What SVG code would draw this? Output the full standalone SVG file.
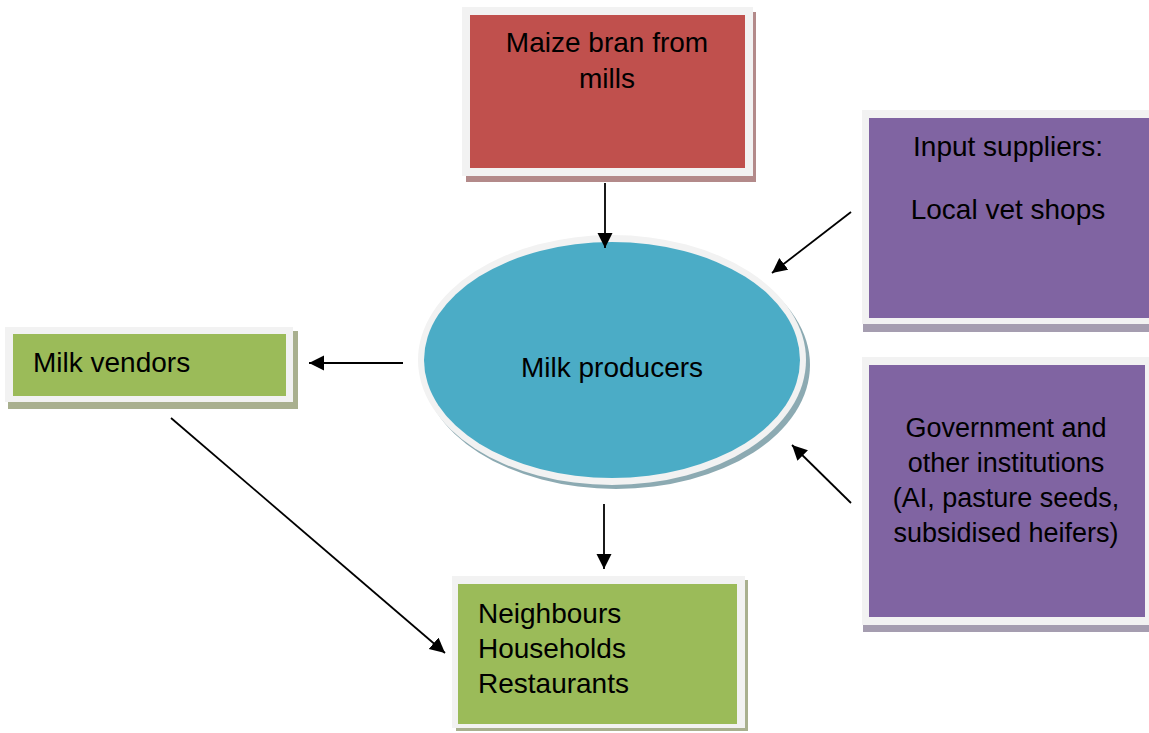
<svg xmlns="http://www.w3.org/2000/svg" width="1149" height="733" viewBox="0 0 1149 733">
<style>
text{font-family:"Liberation Sans",Arial,sans-serif;font-size:28px;fill:#000}
.gov{font-size:27px}
.frame{fill:#F2F2F2}
.red{fill:#C0504D}
.purple{fill:#8064A2}
.green{fill:#9BBB59}
.blue{fill:#4BACC6}
.conn{stroke:#000;stroke-width:1.8;fill:none;marker-end:url(#ah)}
</style>
<defs>
<marker id="ah" markerUnits="userSpaceOnUse" markerWidth="16" markerHeight="16" refX="15" refY="7.5" orient="auto">
<path d="M0,0 L15,7.5 L0,15 z" fill="#000"/>
</marker>
</defs>
<rect width="1149" height="733" fill="#fff"/>
<g id="maize">
<rect x="466" y="12" width="290" height="170" fill="#B38A8A"/>
<rect class="frame" x="462" y="7" width="291" height="169"/>
<rect class="red" x="470" y="15" width="275" height="153"/>
<text x="607" y="52" text-anchor="middle">Maize bran from</text>
<text x="607" y="88" text-anchor="middle">mills</text>
</g>
<g id="producers">
<ellipse cx="616" cy="365" rx="194" ry="124" fill="#8CAAB2"/>
<ellipse class="frame" cx="612" cy="360" rx="194" ry="125"/>
<ellipse class="blue" cx="612" cy="360" rx="188" ry="118"/>
<text x="612" y="377" text-anchor="middle">Milk producers</text>
</g>
<g id="vendors">
<rect x="8" y="331" width="290" height="78" fill="#A9B08F"/>
<rect class="frame" x="5" y="327" width="288" height="75"/>
<rect class="green" x="13" y="334" width="273" height="62"/>
<text x="33" y="372">Milk vendors</text>
</g>
<g id="input">
<rect x="863" y="115" width="290" height="217" fill="#A59DB0"/>
<rect class="frame" x="862" y="110" width="290" height="214"/>
<rect class="purple" x="869" y="118" width="283" height="200"/>
<text x="1008" y="156" text-anchor="middle">Input suppliers:</text>
<text x="1008" y="219" text-anchor="middle">Local vet shops</text>
</g>
<g id="government">
<rect x="863" y="362" width="290" height="270" fill="#A59DB0"/>
<rect class="frame" x="862" y="357" width="290" height="268"/>
<rect class="purple" x="869" y="365" width="276" height="252"/>
<text class="gov" x="1006" y="437" text-anchor="middle">Government and</text>
<text class="gov" x="1006" y="472" text-anchor="middle">other institutions</text>
<text class="gov" x="1006" y="507" text-anchor="middle">(AI, pasture seeds,</text>
<text class="gov" x="1006" y="542" text-anchor="middle">subsidised heifers)</text>
</g>
<g id="consumers">
<rect x="456" y="580" width="292" height="151" fill="#A9B08F"/>
<rect class="frame" x="452" y="576" width="293" height="152"/>
<rect class="green" x="458" y="584" width="279" height="140"/>
<text x="478" y="623">Neighbours</text>
<text x="478" y="658">Households</text>
<text x="478" y="693">Restaurants</text>
</g>
<g id="connectors">
<line class="conn" x1="605" y1="183" x2="605" y2="248"/>
<line class="conn" x1="851" y1="212" x2="772" y2="273"/>
<line class="conn" x1="851" y1="503" x2="792" y2="445"/>
<line class="conn" x1="403" y1="363" x2="309" y2="363"/>
<line class="conn" x1="604" y1="504" x2="604" y2="569"/>
<line class="conn" x1="171" y1="418" x2="445" y2="653"/>
</g>
</svg>
